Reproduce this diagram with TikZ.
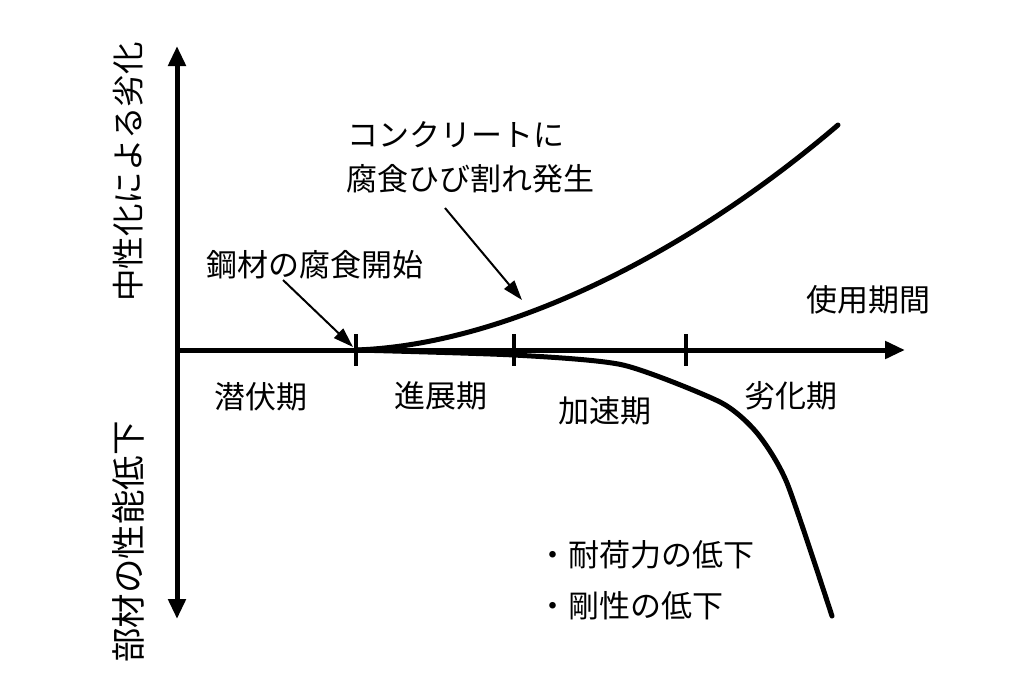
\documentclass[tikz,border=0pt]{standalone}
\usepackage{fontspec}
\setmainfont{Noto Sans CJK JP}
\usetikzlibrary{arrows.meta}
\begin{document}
\begin{tikzpicture}[x=1pt,y=-1pt,
  lbl/.style={inner sep=0pt,font=\fontsize{31}{36}\selectfont},
  vlbl/.style={inner sep=0pt,rotate=90,font=\fontsize{32.5}{36}\selectfont},
  axis/.style={line width=5pt,-{Triangle[length=20pt,width=17pt]}},
  curve/.style={line width=5pt,line cap=round,line join=round},
  pointer/.style={line width=2pt,-{Triangle[length=20pt,width=13pt]}},
  tickmark/.style={line width=4pt}]
\useasboundingbox (0,0) rectangle (1024,683);
\fill[white] (0,0) rectangle (1024,683);
% axes
\coordinate (O) at (177,350);
\coordinate (Xend) at (905,350);
\coordinate (Ytop) at (177,46);
\coordinate (Ybot) at (177,619);
\draw[axis] (O) -- (Xend);
\draw[axis] (O) -- (Ytop);
\draw[axis] (O) -- (Ybot);
% ticks
\foreach \n/\x in {t1/356,t2/514,t3/686}{
  \coordinate (\n a) at (\x,334);
  \coordinate (\n b) at (\x,366);
  \draw[tickmark] (\n a) -- (\n b);
}
% upper curve
\coordinate (u0) at (356,350);
\coordinate (u1) at (838,125);
\draw[curve] (u0) .. controls (500,345) and (680,260) .. (u1);
% lower curve
\draw[curve] plot[smooth,tension=0.4] coordinates {(356,350) (514,355) (623,365) (720,402) (757,433) (787,483) (832,616)};
% labels
\node[vlbl] (yup) at (128,172) {中性化による劣化};
\node[vlbl,font=\fontsize{34.5}{36}\selectfont] (ydown) at (128,542) {部材の性能低下};
\node[lbl] (time) at (868,300) {使用期間};
\node[lbl] (p1) at (261,397) {潜伏期};
\node[lbl] (p2) at (441,396) {進展期};
\node[lbl] (p3) at (605,411) {加速期};
\node[lbl] (p4) at (791,396) {劣化期};
\node[lbl,anchor=west] (steel) at (206,265) {鋼材の腐食開始};
\node[lbl,anchor=west] (crack1) at (347,135) {コンクリートに};
\node[lbl,anchor=west] (crack2) at (346,179) {腐食ひび割れ発生};
\node[lbl,anchor=west] (b1) at (537,555) {・耐荷力の低下};
\node[lbl,anchor=west] (b2) at (537,606) {・剛性の低下};
% pointers
\coordinate (s1) at (283,280);
\coordinate (e1) at (353,347);
\coordinate (s2) at (445,208);
\coordinate (e2) at (522,300);
\draw[pointer] (s1) -- (e1);
\draw[pointer] (s2) -- (e2);
\end{tikzpicture}
\end{document}
